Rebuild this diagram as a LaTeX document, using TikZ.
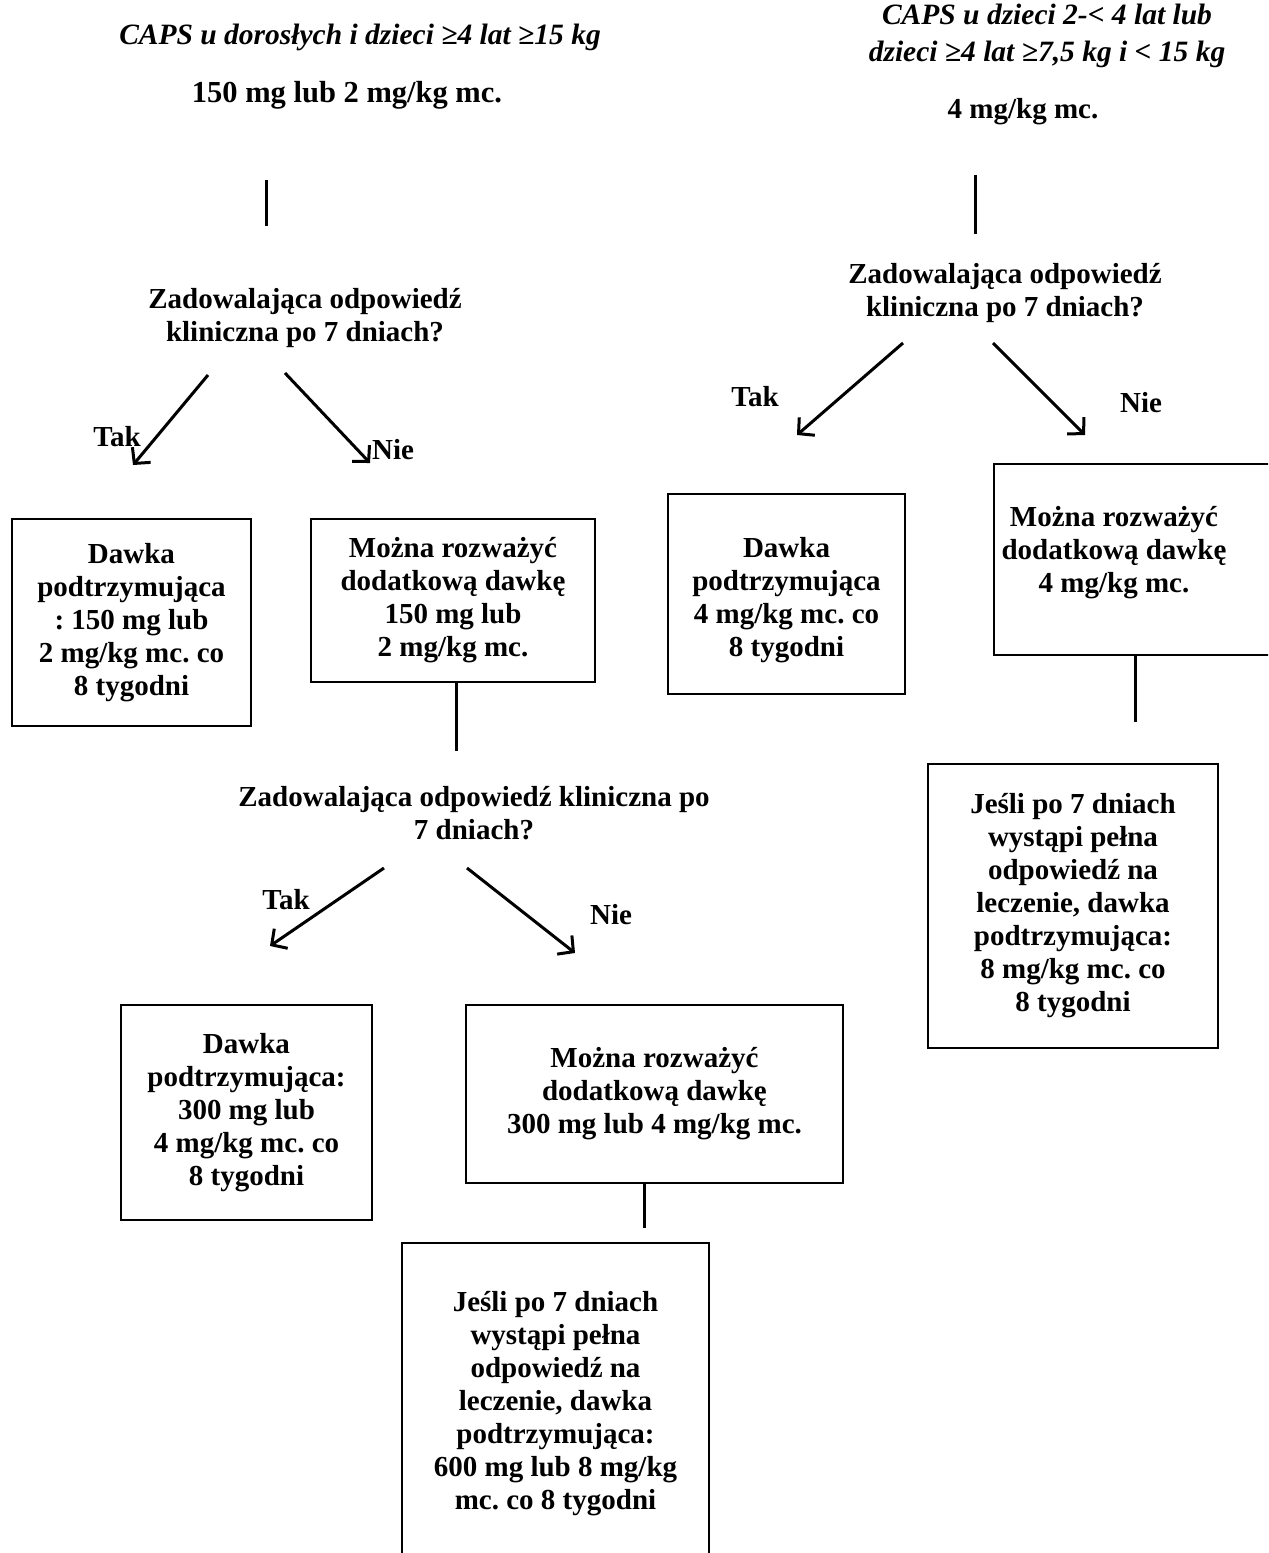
\documentclass[tikz,border=0pt]{standalone}
\usepackage{fontspec}
\setmainfont{Liberation Serif}
\frenchspacing
\usetikzlibrary{arrows.meta,positioning}

\begin{document}
\begin{tikzpicture}[x=0.4pt,y=-0.4pt,>={Straight Barb[length=4.5pt,width=9.5pt]},
	every node/.style={align=center,inner sep=0pt,font=\fontsize{11.6}{13.2}\selectfont\bfseries},
	heading/.style={font=\fontsize{11.8}{14.8}\selectfont\bfseries\itshape},
	box/.style={draw,line width=0.8pt},
	link/.style={line width=1.2pt}]
		\clip (0,0) rectangle (1268,1553);
		\node[heading] (caps_a) at (360,37) {CAPS u dorosłych i dzieci ≥4 lat ≥15 kg};
		\node[font=\fontsize{12.2}{13.2}\selectfont\bfseries] (load_a) at (347,95) {150 mg lub 2 mg/kg mc.};
		\node[heading] (caps_b) at (1047,36) {CAPS u dzieci 2-< 4 lat lub\\dzieci ≥4 lat ≥7,5 kg i < 15 kg};
		\node (load_b) at (1023,112) {4 mg/kg mc.};
		\node (ask_a) at (305,318) {Zadowalająca odpowiedź\\kliniczna po 7 dniach?};
		\node (ask_b) at (1005,293) {Zadowalająca odpowiedź\\kliniczna po 7 dniach?};
		\node (ask_c) at (474,813) {Zadowalająca odpowiedź kliniczna po\\7 dniach?};
		\node (yes_a) at (117,437) {Tak};
		\node (no_a) at (393,450) {Nie};
		\node (yes_b) at (755,397) {Tak};
		\node (no_b) at (1141,403) {Nie};
		\node (yes_c) at (286,900) {Tak};
		\node (no_c) at (611,915) {Nie};
		\node[box,minimum width=95.6pt,minimum height=82.8pt] (dose_a) at (131.5,622.5) {Dawka\\podtrzymująca\\: 150 mg lub\\2 mg/kg mc. co\\8 tygodni};
		\node[box,minimum width=113.6pt,minimum height=65.2pt] (extra_a) at (453,600.5) {Można rozważyć\\dodatkową dawkę\\150 mg lub\\2 mg/kg mc.};
		\node[box,minimum width=100.4pt,minimum height=86pt] (dose_b) at (246.5,1112.5) {Dawka\\podtrzymująca:\\300 mg lub\\4 mg/kg mc. co\\8 tygodni};
		\node[box,minimum width=150.8pt,minimum height=71.2pt] (extra_b) at (654.5,1094) {Można rozważyć\\dodatkową dawkę\\300 mg lub 4 mg/kg mc.};
		\node[box,minimum width=122.8pt,minimum height=128.8pt] (full_a) at (555.5,1404) {Jeśli po 7 dniach\\wystąpi pełna\\odpowiedź na\\leczenie, dawka\\podtrzymująca:\\600 mg lub 8 mg/kg\\mc. co 8 tygodni};
		\node[box,minimum width=94.8pt,minimum height=80pt] (dose_c) at (786.5,594) {};
		\node (dose_c_text) at (786.5,600) {Dawka\\podtrzymująca\\4 mg/kg mc. co\\8 tygodni};
		\node[box,minimum width=112.8pt,minimum height=76.4pt] (extra_c) at (1135,559.5) {};
		\node (extra_c_text) at (1114,553) {Można rozważyć\\dodatkową dawkę\\4 mg/kg mc.};
		\node[box,minimum width=116pt,minimum height=113.6pt] (full_b) at (1073,906) {Jeśli po 7 dniach\\wystąpi pełna\\odpowiedź na\\leczenie, dawka\\podtrzymująca:\\8 mg/kg mc. co\\8 tygodni};
		\coordinate (v1s) at (266,180);
		\coordinate (v1e) at (266,226);
		\coordinate (v2s) at (975,175);
		\coordinate (v2e) at (975,234);
		\coordinate (v3) at (456,751);
		\coordinate (v4) at (644,1228);
		\coordinate (v5) at (1135,722);
		\coordinate (a1s) at (208,375);
		\coordinate (a1e) at (133,465);
		\coordinate (a2s) at (285,373);
		\coordinate (a2e) at (370,463);
		\coordinate (b1s) at (903,343);
		\coordinate (b1e) at (797,435);
		\coordinate (b2s) at (993,343);
		\coordinate (b2e) at (1085,435);
		\coordinate (c1s) at (384,868);
		\coordinate (c1e) at (270,946);
		\coordinate (c2s) at (467,868);
		\coordinate (c2e) at (575,953);
		\path[link]
			(v1s) edge (v1e)
			(v2s) edge (v2e)
			(v3 |- extra_a.south) edge (v3)
			(v4 |- extra_b.south) edge (v4)
			(v5 |- extra_c.south) edge (v5);
		\path[->,link]
			(a1s) edge (a1e)
			(a2s) edge (a2e)
			(b1s) edge (b1e)
			(b2s) edge (b2e)
			(c1s) edge (c1e)
			(c2s) edge (c2e);
\end{tikzpicture}
\end{document}
